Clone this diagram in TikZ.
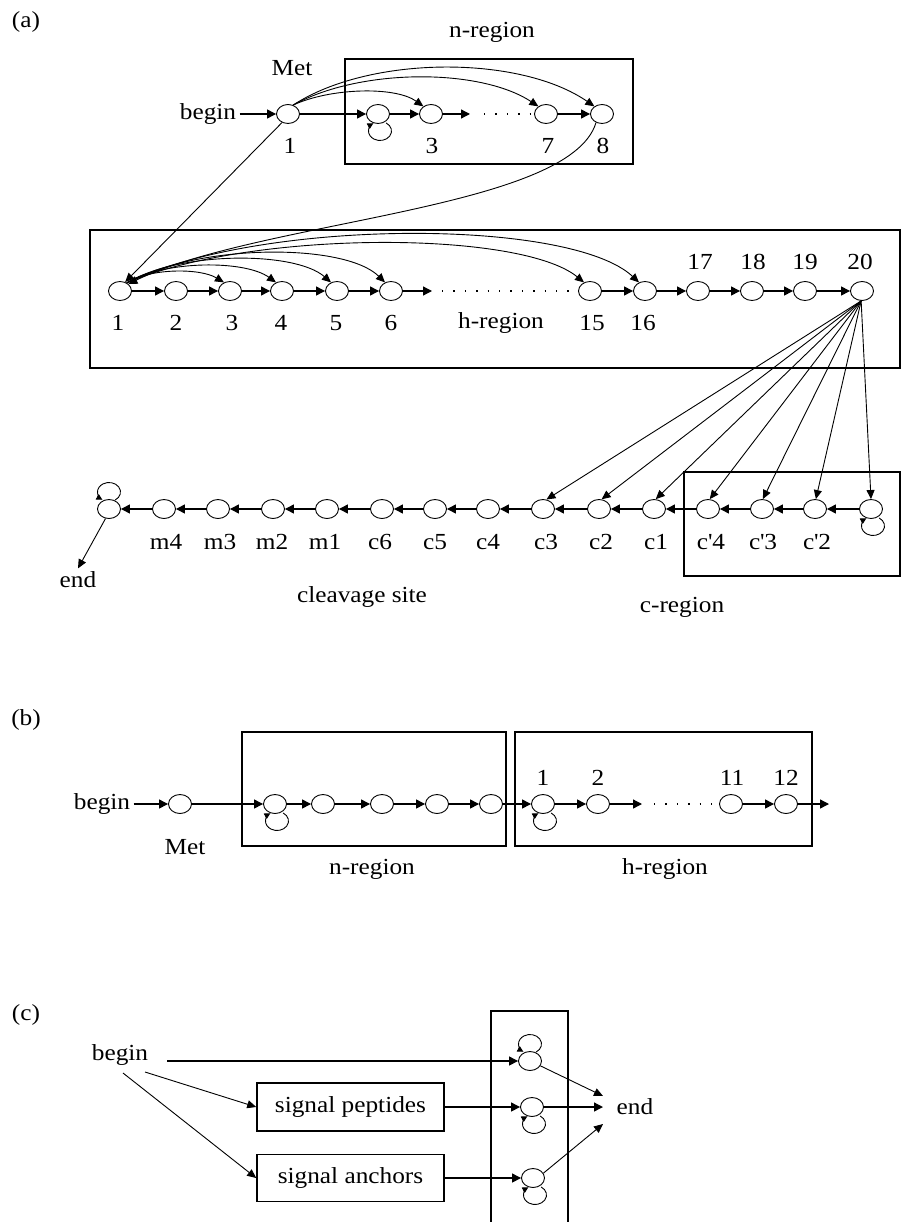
\documentclass[tikz,border=0pt]{standalone}
\usepackage{fontspec}
\setmainfont{Liberation Serif}[FakeStretch=1.1]
\usetikzlibrary{arrows.meta,shapes.geometric}
\newcommand\mkloopbelow[1]{\draw[looparr] ([shift={(2,-17)}]#1.center) ++(58:11.5pt and 9.5pt) arc[start angle=58, end angle=-235, x radius=11.5pt, y radius=9.5pt];}
\newcommand\mkloopabove[1]{\draw[looparr] ([shift={(0,17)}]#1.center) ++(-58:11.5pt and 9.5pt) arc[start angle=-58, end angle=235, x radius=11.5pt, y radius=9.5pt];}
\begin{document}
\begin{tikzpicture}[x=1pt,y=1pt,
  st/.style={draw, ellipse, minimum width=23pt, minimum height=19pt, inner sep=0pt, line width=0.9pt},
  lbl/.style={font=\fontsize{23}{27}\selectfont, inner sep=0pt},
  txt/.style={font=\fontsize{23}{27}\selectfont},
  arr/.style={line width=1.3pt, -{Triangle[length=9pt,width=9pt]}},
  thinarr/.style={line width=0.9pt, -{Triangle[length=9pt,width=8pt]}},
  looparr/.style={line width=0.9pt, -{Triangle[length=6pt,width=6pt]}},
  region/.style={draw, line width=1.6pt},
  dots/.style={line width=1.4pt, dash pattern=on 1.4pt off 10pt},
]
\useasboundingbox (0,0) rectangle (903,-1222);

% ================= (a) =================
\node[txt] at (26,-22) {(a)};
\node[txt] at (492,-32) {n-region};
\draw[region] (345,-59) rectangle (633,-164);
\node[txt] at (292,-68) {Met};
\node[txt] (beginA) at (208,-114) {begin};
\node[st] (a1) at (288,-114) {};
\node[st] (a2) at (378,-114) {};
\node[st] (a3) at (431,-114) {};
\node[st] (a7) at (546,-114) {};
\node[st] (a8) at (602,-114) {};
\node[lbl] at (290,-146) {1};
\node[lbl] at (432,-146) {3};
\node[lbl] at (548,-146) {7};
\node[lbl] at (603,-146) {8};
\coordinate (ta) at (470,-114);
\coordinate (da1) at (484,-114);
\coordinate (da2) at (532,-114);
\draw[arr] (beginA) -- (a1);
\draw[arr] (a1) -- (a2);
\draw[arr] (a2) -- (a3);
\draw[arr] (a3) -- (ta);
\draw[dots] (da1) -- (da2);
\draw[arr] (a7) -- (a8);
\mkloopbelow{a2}
\draw[thinarr] (a1.60) .. controls (330,-88) and (395,-86) .. (a3.135);
\draw[thinarr] (a1.60) .. controls (360,-68) and (480,-68) .. (a7.135);
\draw[thinarr] (a1.60) .. controls (370,-55) and (520,-55) .. (a8.135);

% h-region
\draw[region] (90,-230) rectangle (900,-368);
\node[st] (h1) at (120,-291) {};
\node[st] (h2) at (176,-291) {};
\node[st] (h3) at (230,-291) {};
\node[st] (h4) at (282,-291) {};
\node[st] (h5) at (337,-291) {};
\node[st] (h6) at (391,-291) {};
\node[st] (h15) at (590,-291) {};
\node[st] (h16) at (645,-291) {};
\node[st] (h17) at (698,-291) {};
\node[st] (h18) at (752,-291) {};
\node[st] (h19) at (805,-291) {};
\node[st] (h20) at (862,-291) {};
\node[lbl] at (118,-323) {1};
\node[lbl] at (176,-323) {2};
\node[lbl] at (232,-323) {3};
\node[lbl] at (281,-323) {4};
\node[lbl] at (336,-323) {5};
\node[lbl] at (391,-323) {6};
\node[lbl] at (501,-323) {h-region};
\node[lbl] at (592,-323) {15};
\node[lbl] at (643,-323) {16};
\node[lbl] at (700,-262) {17};
\node[lbl] at (753,-262) {18};
\node[lbl] at (805,-262) {19};
\node[lbl] at (860,-262) {20};
\coordinate (th) at (432,-291);
\coordinate (dh1) at (442,-291);
\coordinate (dh2) at (576,-291);
\draw[arr] (h1) -- (h2);
\draw[arr] (h2) -- (h3);
\draw[arr] (h3) -- (h4);
\draw[arr] (h4) -- (h5);
\draw[arr] (h5) -- (h6);
\draw[arr] (h6) -- (th);
\draw[dots] (dh1) -- (dh2);
\draw[arr] (h15) -- (h16);
\draw[arr] (h16) -- (h17);
\draw[arr] (h17) -- (h18);
\draw[arr] (h18) -- (h19);
\draw[arr] (h19) -- (h20);
\draw[thinarr] (h1.50) .. controls (150,-268) and (200,-268) .. (h3.125);
\draw[thinarr] (h1.50) .. controls (165,-260) and (245,-260) .. (h4.125);
\draw[thinarr] (h1.50) .. controls (180,-251) and (295,-251) .. (h5.125);
\draw[thinarr] (h1.50) .. controls (200,-243) and (345,-243) .. (h6.125);
\draw[thinarr] (h1.50) .. controls (250,-230) and (520,-230) .. (h15.125);
\draw[thinarr] (h1.50) .. controls (260,-218) and (570,-218) .. (h16.125);
\draw[thinarr] (a1.235) -- (h1.60);
\draw[thinarr] (a8.235) .. controls (570,-210) and (260,-220) .. (h1.40);

% c-region / cleavage row
\draw[region] (684,-472) rectangle (900,-576);
\node[st] (cp1) at (871,-509) {};
\node[st] (cp2) at (815,-509) {};
\node[st] (cp3) at (762,-509) {};
\node[st] (cp4) at (708,-509) {};
\node[st] (c1) at (654,-509) {};
\node[st] (c2) at (599,-509) {};
\node[st] (c3) at (543,-509) {};
\node[st] (c4) at (488,-509) {};
\node[st] (c5) at (435,-509) {};
\node[st] (c6) at (382,-509) {};
\node[st] (m1) at (327,-509) {};
\node[st] (m2) at (273,-509) {};
\node[st] (m3) at (218,-509) {};
\node[st] (m4) at (164,-509) {};
\node[st] (fin) at (109,-509) {};
\node[lbl] at (817,-542) {c\textquotesingle 2};
\node[lbl] at (763,-542) {c\textquotesingle 3};
\node[lbl] at (711,-542) {c\textquotesingle 4};
\node[lbl] at (656,-542) {c1};
\node[lbl] at (601,-542) {c2};
\node[lbl] at (546,-542) {c3};
\node[lbl] at (488,-542) {c4};
\node[lbl] at (435,-542) {c5};
\node[lbl] at (380,-542) {c6};
\node[lbl] at (325,-542) {m1};
\node[lbl] at (272,-542) {m2};
\node[lbl] at (220,-542) {m3};
\node[lbl] at (166,-542) {m4};
\node[lbl] at (362,-597) {cleavage site};
\node[lbl] at (682,-607) {c-region};
\node[txt] (endA) at (78,-580) {end};
\draw[arr] (cp1) -- (cp2);
\draw[arr] (cp2) -- (cp3);
\draw[arr] (cp3) -- (cp4);
\draw[arr] (cp4) -- (c1);
\draw[arr] (c1) -- (c2);
\draw[arr] (c2) -- (c3);
\draw[arr] (c3) -- (c4);
\draw[arr] (c4) -- (c5);
\draw[arr] (c5) -- (c6);
\draw[arr] (c6) -- (m1);
\draw[arr] (m1) -- (m2);
\draw[arr] (m2) -- (m3);
\draw[arr] (m3) -- (m4);
\draw[arr] (m4) -- (fin);
\mkloopabove{fin}
\mkloopbelow{cp1}
\draw[thinarr] (fin.250) -- (endA.north);
\draw[thinarr] (h20.265) -- (c3.70);
\draw[thinarr] (h20.265) -- (c2.75);
\draw[thinarr] (h20.265) -- (c1.80);
\draw[thinarr] (h20.265) -- (cp4.80);
\draw[thinarr] (h20.265) -- (cp3.85);
\draw[thinarr] (h20.265) -- (cp2.85);
\draw[thinarr] (h20.265) -- (cp1.north);

% ================= (b) =================
\node[txt] at (26,-720) {(b)};
\draw[region] (242,-732) rectangle (506,-846);
\draw[region] (515,-732) rectangle (812,-846);
\node[txt] (beginB) at (102,-804) {begin};
\node[st] (bm) at (180,-804) {};
\node[lbl] at (185,-847) {Met};
\node[st] (bn1) at (275,-804) {};
\node[st] (bn2) at (323,-804) {};
\node[st] (bn3) at (382,-804) {};
\node[st] (bn4) at (437,-804) {};
\node[st] (bn5) at (491,-804) {};
\node[st] (bh1) at (543,-804) {};
\node[st] (bh2) at (598,-804) {};
\node[st] (bh11) at (731,-804) {};
\node[st] (bh12) at (786,-804) {};
\node[lbl] at (543,-778) {1};
\node[lbl] at (598,-778) {2};
\node[lbl] at (732,-778) {11};
\node[lbl] at (786,-778) {12};
\node[lbl] at (372,-869) {n-region};
\node[lbl] at (665,-869) {h-region};
\coordinate (tb) at (642,-804);
\coordinate (db1) at (654,-804);
\coordinate (db2) at (722,-804);
\coordinate (tbx) at (829,-804);
\draw[arr] (beginB) -- (bm);
\draw[arr] (bm) -- (bn1);
\draw[arr] (bn1) -- (bn2);
\draw[arr] (bn2) -- (bn3);
\draw[arr] (bn3) -- (bn4);
\draw[arr] (bn4) -- (bn5);
\draw[arr] (bn5) -- (bh1);
\draw[arr] (bh1) -- (bh2);
\draw[arr] (bh2) -- (tb);
\draw[dots] (db1) -- (db2);
\draw[arr] (bh11) -- (bh12);
\draw[arr] (bh12) -- (tbx);
\mkloopbelow{bn1}
\mkloopbelow{bh1}

% ================= (c) =================
\node[txt] at (26,-1015) {(c)};
\node[txt] (beginC) at (120,-1055) {begin};
\node[txt, region, minimum width=187pt, minimum height=48pt, inner sep=0pt] (sp) at (350.5,-1107) {signal peptides};
\node[txt, region, minimum width=187pt, minimum height=47pt, inner sep=0pt] (sa) at (350.5,-1178) {signal anchors};
\draw[line width=1.6pt] (491,-1230) -- (491,-1011) -- (568,-1011) -- (568,-1230);
\node[st] (cc1) at (530,-1061) {};
\node[st] (cc2) at (532,-1107) {};
\node[st] (cc3) at (533,-1178) {};
\node[txt] (endC) at (635,-1107) {end};
\coordinate (bs1) at (167,-1061);
\coordinate (bs2) at (145,-1072);
\coordinate (bs3) at (123,-1073);
\coordinate (e1) at (603,-1096);
\coordinate (e2) at (603,-1107);
\coordinate (e3) at (603,-1124);
\draw[arr] (bs1) -- (cc1);
\draw[thinarr] (bs2) -- (sp.west);
\draw[thinarr] (bs3) -- (sa.west);
\draw[arr] (sp.east) -- (cc2);
\draw[arr] (sa.east) -- (cc3);
\draw[thinarr] (cc1.-25) -- (e1);
\draw[arr] (cc2) -- (e2);
\draw[thinarr] (cc3.25) -- (e3);
\mkloopabove{cc1}
\mkloopbelow{cc2}
\mkloopbelow{cc3}
\end{tikzpicture}
\end{document}
